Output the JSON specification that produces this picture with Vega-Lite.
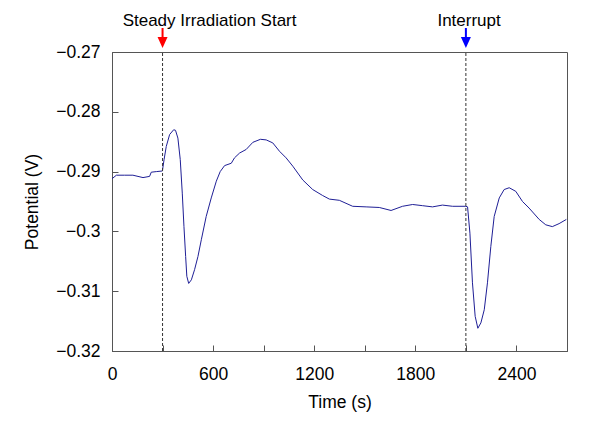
{
  "$schema": "https://vega.github.io/schema/vega-lite/v6.json",
  "width": 455,
  "height": 299,
  "autosize": {"type": "none"},
  "padding": {"left": 112, "top": 52, "right": 27, "bottom": 71},
  "background": "white",
  "config": {
    "view": {"stroke": "#555555", "strokeWidth": 1},
    "font": "Liberation Sans",
    "axis": {
      "labelFont": "Liberation Sans",
      "titleFont": "Liberation Sans",
      "labelFontSize": 17.5,
      "titleFontSize": 17.5,
      "titleFontWeight": "normal",
      "labelColor": "#000000",
      "titleColor": "#000000",
      "domainColor": "#555555",
      "tickColor": "#555555",
      "grid": false
    }
  },
  "datasets": {
    "series": [
      {"t": 0, "v": -0.2912}, {"t": 26, "v": -0.2906}, {"t": 75, "v": -0.2906}, {"t": 124, "v": -0.2906},
      {"t": 184, "v": -0.2910}, {"t": 223, "v": -0.2908}, {"t": 233, "v": -0.2901}, {"t": 263, "v": -0.2900},
      {"t": 299, "v": -0.2899}, {"t": 309, "v": -0.2880}, {"t": 322, "v": -0.2858}, {"t": 342, "v": -0.2838},
      {"t": 366, "v": -0.2830}, {"t": 377, "v": -0.2831}, {"t": 391, "v": -0.2844}, {"t": 405, "v": -0.2880},
      {"t": 417, "v": -0.2936}, {"t": 427, "v": -0.2992}, {"t": 437, "v": -0.3042}, {"t": 444, "v": -0.3075},
      {"t": 455, "v": -0.3087}, {"t": 471, "v": -0.3081}, {"t": 490, "v": -0.3064}, {"t": 510, "v": -0.3042},
      {"t": 530, "v": -0.3014}, {"t": 559, "v": -0.2975}, {"t": 589, "v": -0.2944}, {"t": 619, "v": -0.2916},
      {"t": 642, "v": -0.2900}, {"t": 668, "v": -0.2890}, {"t": 708, "v": -0.2886}, {"t": 727, "v": -0.2877},
      {"t": 757, "v": -0.2869}, {"t": 796, "v": -0.2863}, {"t": 836, "v": -0.2851}, {"t": 881, "v": -0.2846},
      {"t": 915, "v": -0.2847}, {"t": 954, "v": -0.2852}, {"t": 994, "v": -0.2866}, {"t": 1033, "v": -0.2877},
      {"t": 1073, "v": -0.2891}, {"t": 1132, "v": -0.2914}, {"t": 1191, "v": -0.2930}, {"t": 1250, "v": -0.2940},
      {"t": 1290, "v": -0.2946}, {"t": 1349, "v": -0.2948}, {"t": 1428, "v": -0.2958}, {"t": 1508, "v": -0.2959},
      {"t": 1586, "v": -0.2960}, {"t": 1656, "v": -0.2965}, {"t": 1724, "v": -0.2958}, {"t": 1784, "v": -0.2955},
      {"t": 1843, "v": -0.2957}, {"t": 1902, "v": -0.2959}, {"t": 1961, "v": -0.2956}, {"t": 2021, "v": -0.2958},
      {"t": 2100, "v": -0.2958}, {"t": 2110, "v": -0.2959}, {"t": 2124, "v": -0.3003}, {"t": 2139, "v": -0.3086},
      {"t": 2155, "v": -0.3142}, {"t": 2171, "v": -0.3162}, {"t": 2189, "v": -0.3153}, {"t": 2209, "v": -0.3131},
      {"t": 2228, "v": -0.3086}, {"t": 2248, "v": -0.3025}, {"t": 2268, "v": -0.2975}, {"t": 2298, "v": -0.2944},
      {"t": 2327, "v": -0.2930}, {"t": 2357, "v": -0.2927}, {"t": 2396, "v": -0.2933}, {"t": 2436, "v": -0.2950},
      {"t": 2475, "v": -0.2961}, {"t": 2535, "v": -0.2980}, {"t": 2574, "v": -0.2989}, {"t": 2613, "v": -0.2992},
      {"t": 2653, "v": -0.2987}, {"t": 2696, "v": -0.2980}
    ],
    "events": [
      {"t": 300, "v": -0.32, "v2": -0.27},
      {"t": 2100, "v": -0.32, "v2": -0.27}
    ],
    "arrowShaft": [
      {"t": 300, "v": -0.26599, "v2": -0.26760, "col": "#ff0000"},
      {"t": 2100, "v": -0.26599, "v2": -0.26760, "col": "#0000ff"}
    ],
    "arrowHead": [
      {"t": 300, "v": -0.26841, "col": "#ff0000"},
      {"t": 2100, "v": -0.26841, "col": "#0000ff"}
    ],
    "labels": [
      {"t": 579, "v": -0.2656, "label": "Steady Irradiation Start"},
      {"t": 2119, "v": -0.2656, "label": "Interrupt"}
    ]
  },
  "encoding": {
    "x": {
      "field": "t", "type": "quantitative",
      "scale": {"domain": [0, 2700], "nice": false, "zero": false},
      "axis": {
        "title": "Time (s)",
        "values": [0, 300, 600, 900, 1200, 1500, 1800, 2100, 2400, 2700],
        "format": "d",
        "labelExpr": "datum.value % 600 === 0 && datum.value < 2700 ? datum.label : ''",
        "tickSize": -6,
        "labelPadding": 20,
        "titlePadding": 11,
        "labelFlush": false,
        "labelOverlap": false
      }
    },
    "y": {
      "field": "v", "type": "quantitative",
      "scale": {"domain": [-0.32, -0.27], "nice": false, "zero": false},
      "axis": {
        "title": "Potential (V)",
        "values": [-0.32, -0.31, -0.3, -0.29, -0.28, -0.27],
        "format": ".2~f",
        "tickSize": -6,
        "labelPadding": 18,
        "titlePadding": 14,
        "labelFlush": false,
        "labelOverlap": false
      }
    }
  },
  "layer": [
    {
      "data": {"name": "series"},
      "mark": {"type": "line", "color": "#1f1f96", "strokeWidth": 1, "interpolate": "linear"}
    },
    {
      "data": {"name": "events"},
      "mark": {"type": "rule", "color": "#333333", "strokeWidth": 1, "strokeDash": [3, 2]},
      "encoding": {
        "y2": {"field": "v2"}
      }
    },
    {
      "data": {"name": "arrowShaft"},
      "mark": {"type": "rule", "strokeWidth": 2},
      "encoding": {
        "y2": {"field": "v2"},
        "color": {"field": "col", "type": "nominal", "scale": null, "legend": null}
      }
    },
    {
      "data": {"name": "arrowHead"},
      "mark": {"type": "point", "shape": "M-0.91,-1L0.91,-1L0,1Z", "size": 121, "filled": true, "opacity": 1, "strokeWidth": 0},
      "encoding": {
        "color": {"field": "col", "type": "nominal", "scale": null, "legend": null}
      }
    },
    {
      "data": {"name": "labels"},
      "mark": {"type": "text", "font": "Liberation Sans", "fontSize": 17, "color": "#000000", "align": "center", "baseline": "alphabetic"},
      "encoding": {
        "text": {"field": "label", "type": "nominal"}
      }
    }
  ]
}
